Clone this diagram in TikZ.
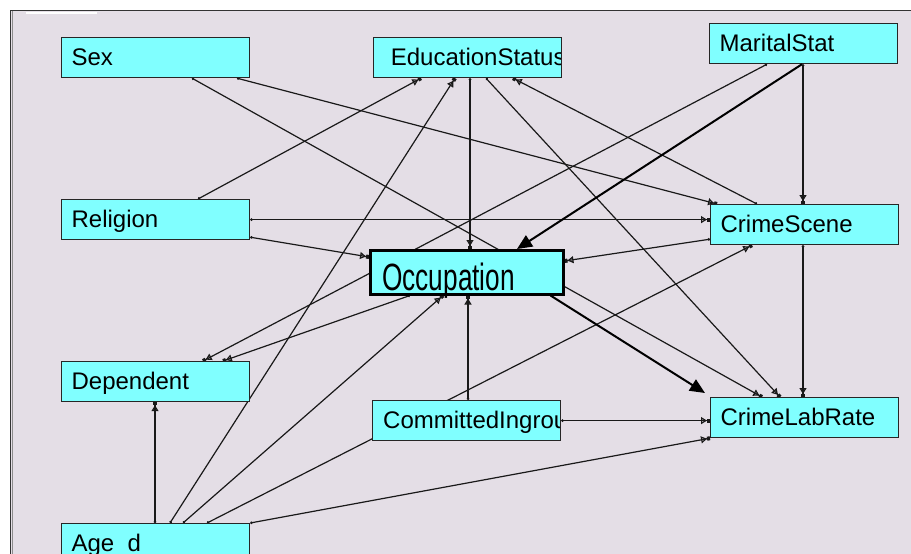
\documentclass[tikz,border=0pt]{standalone}
\usepackage{fontspec}
\setmainfont{Liberation Sans}
\usetikzlibrary{arrows.meta}
\definecolor{canvas}{RGB}{228,222,230}
\definecolor{boxcyan}{RGB}{128,255,255}
\newcommand\lblfont{\fontsize{24}{24}\selectfont}
\pgfdeclarelayer{back}
\pgfsetlayers{back,main}
\tikzset{
  var/.style={draw=black!85, line width=1.2pt, fill=boxcyan, anchor=north west,
    minimum width=188pt, minimum height=40pt, text width=168pt, inner xsep=10pt,
    inner ysep=0pt, text height=19pt, text depth=3pt, align=left, font=\lblfont},
  cut/.style={path picture={\node[anchor=base west, inner sep=0pt, text width=, font=\lblfont]
    at ([shift={(10pt,-28pt)}]path picture bounding box.north west) {#1};}},
  link/.style={line width=1.2pt, black!90,
    {Circle[length=2.5pt]}-{Triangle[open,length=6pt,width=7pt]Square[length=3pt,width=4pt]}},
  hot link/.style={line width=2pt, -{Triangle[length=15pt,width=13pt]}}
}
\begin{document}
\begin{tikzpicture}[x=1pt,y=-1pt]
\useasboundingbox (0,0) rectangle (911,554);
\clip (0,0) rectangle (911,554);
\begin{pgfonlayer}{back}
  \fill[white] (0,0) rectangle (911,554);
  \fill[canvas] (10,10) rectangle (911,554);
  \draw[black!80, line width=1.2pt] (10,10.5)--(911,10.5);
  \draw[black!80, line width=1.2pt] (10.5,10)--(10.5,554);
  \draw[black!45, line width=1.5pt] (12.5,11)--(12.5,554);
  \draw[white, line width=1.5pt] (26,13)--(97,13);
\end{pgfonlayer}

\node (sex) at (61,37) [var] {Sex};
\node (edu) at (373,37) [var, cut=EducationStatus] {};
\node (marital) at (709,23) [var] {MaritalStat};
\node (religion) at (61,199) [var] {Religion};
\node (scene) at (710,204) [var] {CrimeScene};
\fill[boxcyan] (372,252) rectangle (565,296);
\node (occup) at (369,249) [var, draw=black, line width=2.5pt, minimum width=193pt,
  minimum height=44pt, text width=169pt, inner xsep=12pt, text height=36pt, text depth=0pt]
  {\scalebox{0.69}[1]{\fontsize{38}{38}\selectfont Occupation}};
\node (depend) at (61,361) [var] {Dependent};
\node (commit) at (372,400) [var, cut=CommittedIngroup] {};
\node (lab) at (710,397) [var] {CrimeLabRate};
\node (age) at (61,523) [var] {Age\_d};

\begin{pgfonlayer}{back}
  \foreach \a/\i/\b/\j in {sex/131/lab/52, sex/176/scene/7, edu/97/occup/101,
      edu/113/lab/70, marital/94/scene/93, marital/58/depend/142,
      scene/93/lab/93, occup/41/depend/162}
    \draw[link] ([xshift=\i pt]\a.south west) -- ([xshift=\j pt]\b.north west);
  \foreach \a/\i/\b/\j in {religion/137/edu/48, scene/47/edu/140, age/94/depend/94,
      age/109/edu/82, age/122/occup/74, age/146/scene/42, commit/96/occup/99}
    \draw[link] ([xshift=\i pt]\a.north west) -- ([xshift=\j pt]\b.south west);
  \draw[link] (religion.east) -- (religion.east -| scene.west);
  \draw[link] ([yshift=3pt]religion.south east) -- ([yshift=-8pt]occup.north west);
  \draw[link] ([yshift=6pt]scene.south west) -- ([yshift=-12pt]occup.north east);
  \draw[link] (age.north east) -- (lab.south west);
  \draw[link] (commit.east) -- (commit.east -| lab.west);
\end{pgfonlayer}

\draw[hot link] ([xshift=93pt]marital.south west) -- ([xshift=148pt]occup.north west);
\draw[hot link] ([xshift=-14pt]occup.south east) -- ([shift={(-5pt,4pt)}]lab.north west);
\end{tikzpicture}
\end{document}
